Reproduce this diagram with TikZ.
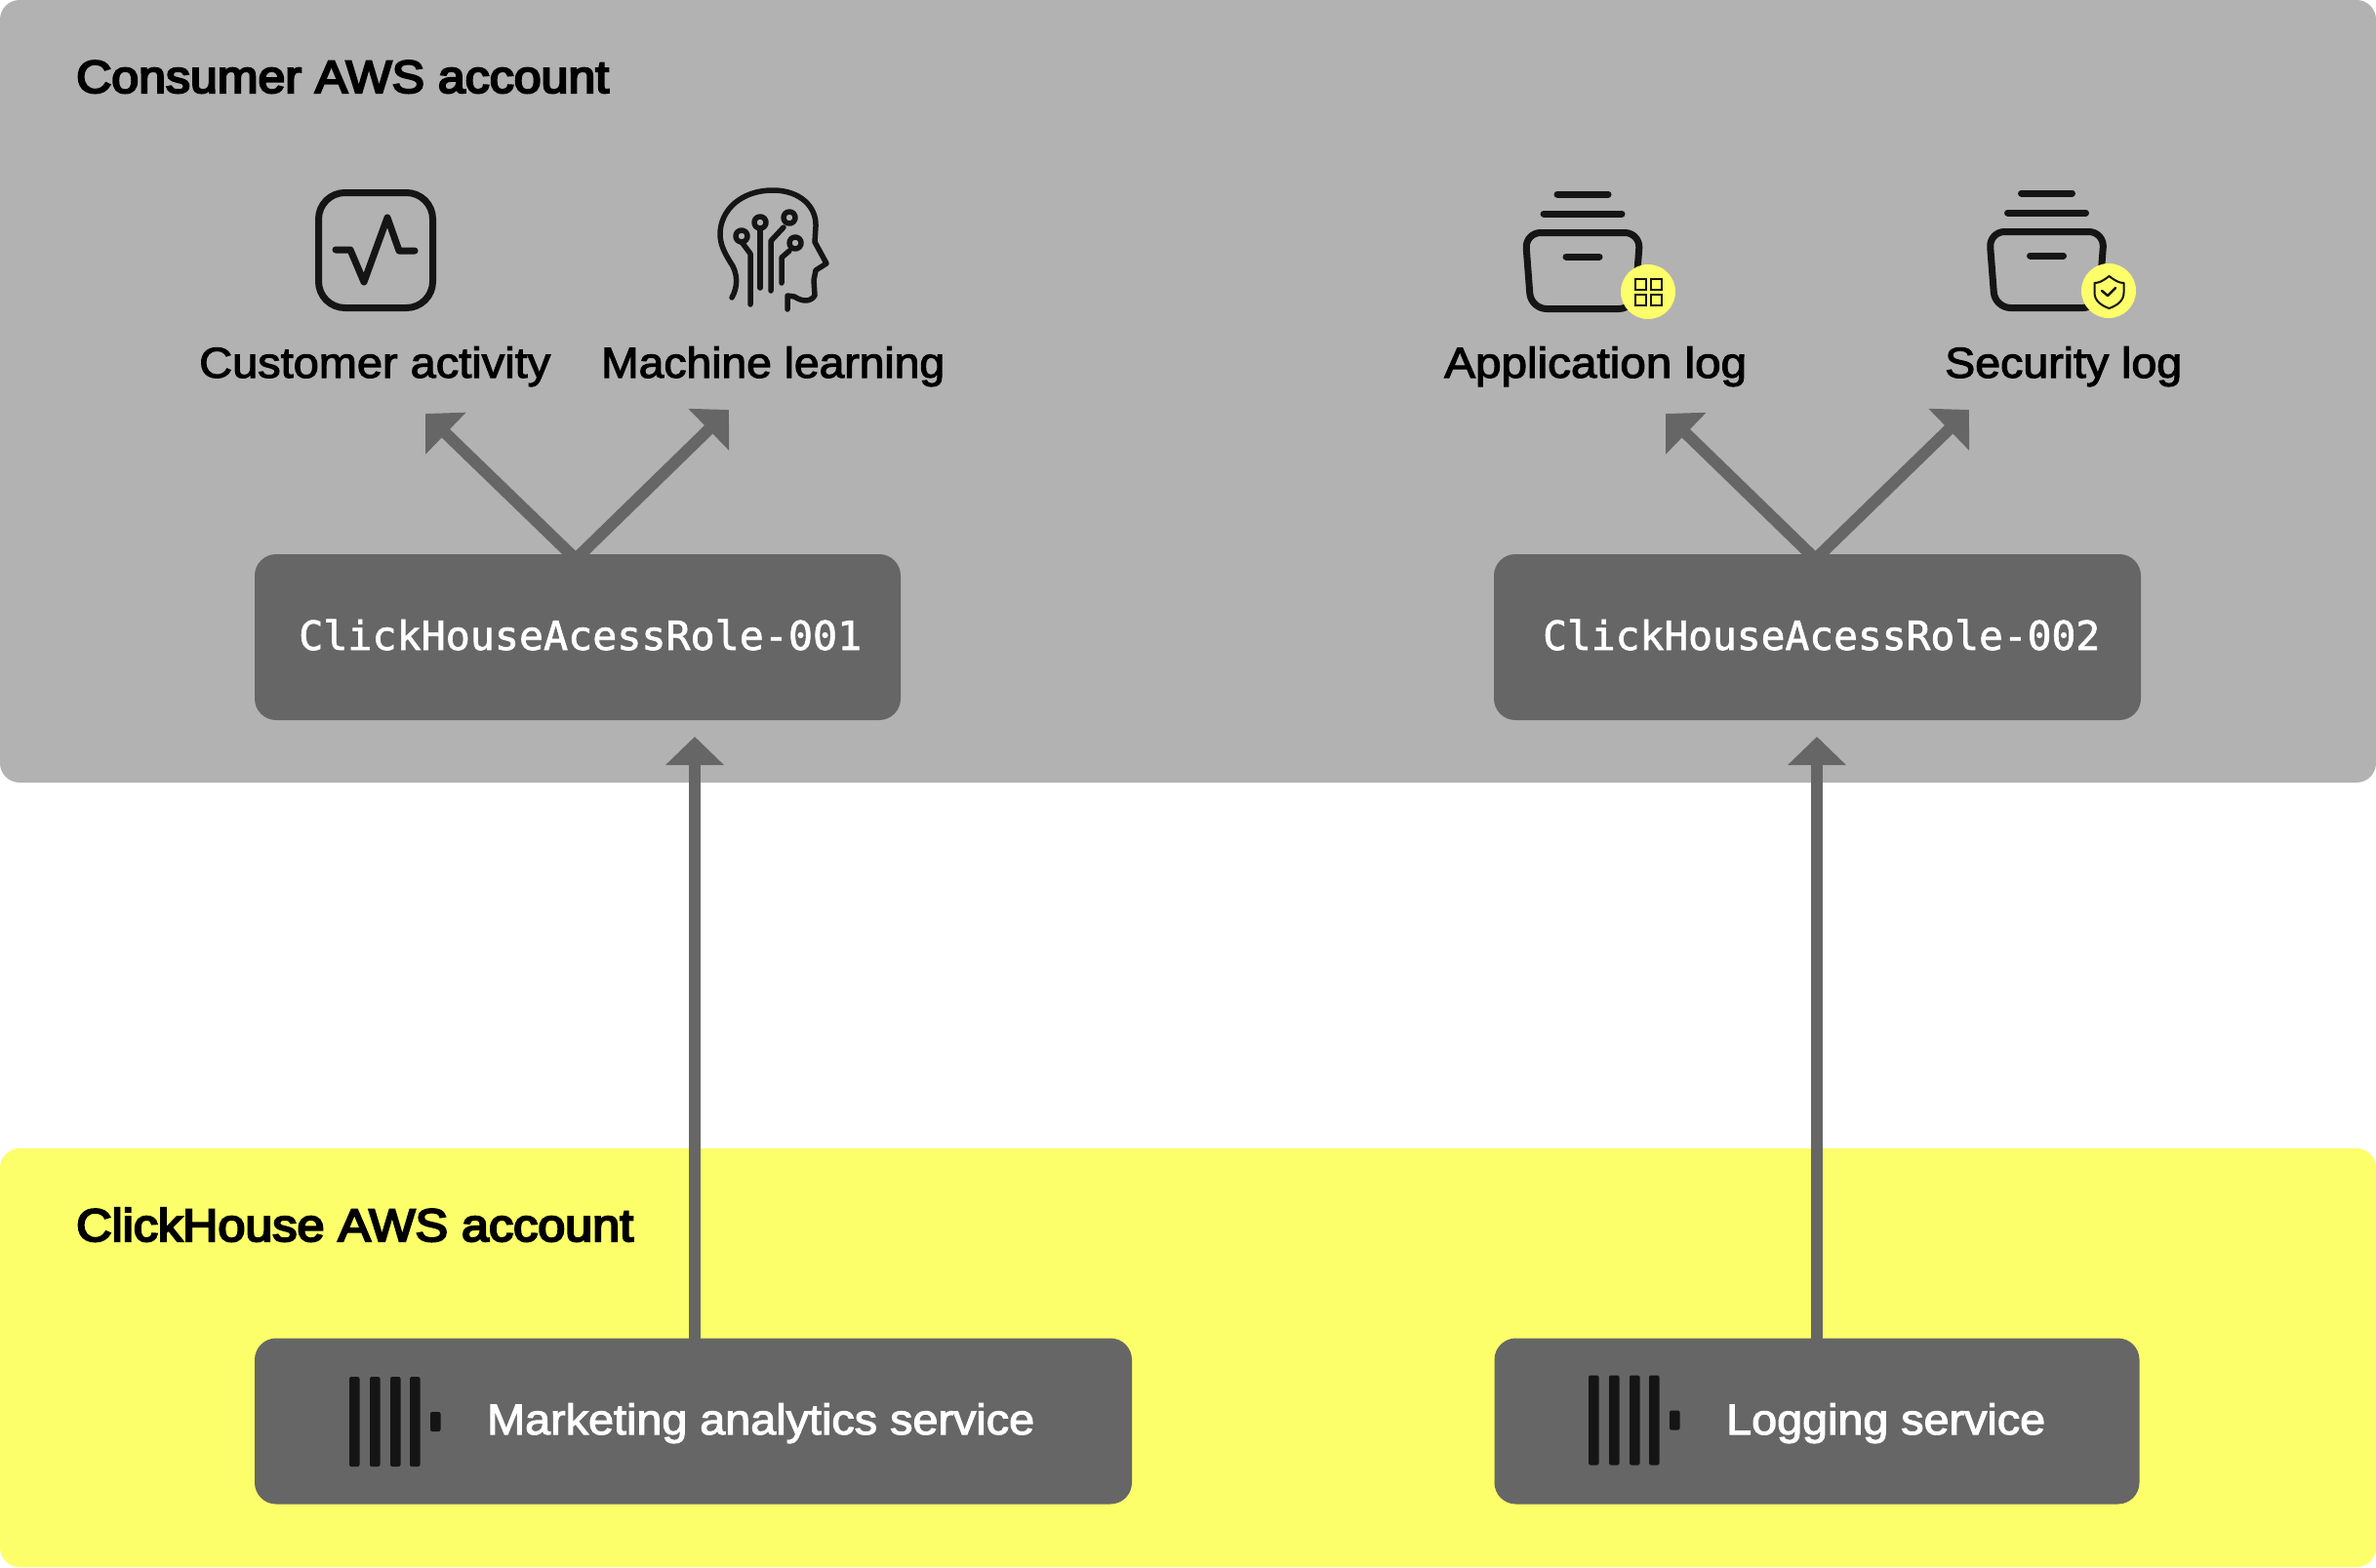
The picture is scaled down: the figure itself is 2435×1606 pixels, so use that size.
\documentclass[tikz,border=0pt]{standalone}
\usepackage{fontspec}
\usepackage{graphicx}
\usetikzlibrary{arrows.meta}
\setmainfont{Liberation Sans}
\newfontfamily\medf[FakeBold=2.4]{Liberation Sans}
\newfontfamily\headf[FakeBold=4.5]{Liberation Sans}
\newfontfamily\codef[FakeBold=1.6]{DejaVu Sans Mono}
\definecolor{panelgray}{HTML}{B2B2B2}
\definecolor{brandyellow}{HTML}{FCFF69}
\definecolor{boxgray}{HTML}{666666}
\definecolor{inkblack}{HTML}{151515}
\newcommand{\fitw}[2]{\resizebox{#1pt}{\height}{#2}}
\tikzset{
  x=1pt,y=-1pt,
  panel/.style={fill=#1,draw=none,rounded corners=20pt},
  darkbox/.style={fill=boxgray,draw=none,rounded corners=22pt,inner sep=0pt,anchor=center},
  flow/.style={draw=boxgray,line width=12pt,-{Triangle[length=29pt,width=58pt,fill=boxgray]}},
  heading/.style={anchor=base west,inner sep=0pt,text=black,font=\fontsize{47}{47}\headf},
  caption/.style={anchor=base west,inner sep=0pt,text=black,font=\fontsize{44}{44}\medf},
  svctext/.style={anchor=base west,inner sep=0pt,text=white,font=\fontsize{44}{44}\medf},
  roletext/.style={anchor=base west,inner sep=0pt,text=white,font=\fontsize{41}{41}\codef},
  icon/.style={draw=inkblack,line width=#1,line cap=round,line join=round},
  bar/.style={fill=inkblack,draw=none,rounded corners=2pt},
  badge/.style={fill=brandyellow,draw=none},
}
\begin{document}
\begin{tikzpicture}
\useasboundingbox (0,0) rectangle (2435,1606);
% panels
\path[panel=panelgray] (0,0) rectangle (2435,802);
\path[panel=brandyellow] (0,1177) rectangle (2435,1606);
\node[heading] (consumer) at (78,95) {\fitw{546}{Consumer AWS account}};
\node[heading] (clickhouse) at (78,1272) {\fitw{571}{ClickHouse AWS account}};
% captions
\node[caption] (activity) at (204,387) {\fitw{360}{Customer activity}};
\node[caption] (ml) at (616,387) {\fitw{352}{Machine learning}};
\node[caption] (applog) at (1480,387) {\fitw{310}{Application log}};
\node[caption] (seclog) at (1993,387) {\fitw{243}{Security log}};
% connector ends
\coordinate (roleAtop) at (590,573);
\coordinate (roleBtop) at (1860.5,573);
\coordinate (tipActivity) at (436,424);
\coordinate (tipMl) at (747,420);
\coordinate (tipApp) at (1707,424);
\coordinate (tipSec) at (2018,420);
\coordinate (tipRoleA) at (712,755);
\coordinate (tipRoleB) at (1862,755);
\coordinate (svcAtop) at (712,1380);
\coordinate (svcBtop) at (1862,1380);
% connectors
\draw[flow] (roleAtop) -- (tipActivity);
\draw[flow] (roleAtop) -- (tipMl);
\draw[flow] (roleBtop) -- (tipApp);
\draw[flow] (roleBtop) -- (tipSec);
\draw[flow] (svcAtop) -- (tipRoleA);
\draw[flow] (svcBtop) -- (tipRoleB);
% boxes
\node[darkbox,minimum width=662pt,minimum height=170pt] (roleA) at (592,653) {};
\node[darkbox,minimum width=663pt,minimum height=170pt] (roleB) at (1862.5,653) {};
\node[darkbox,minimum width=899pt,minimum height=170pt] (svcA) at (710.5,1456.5) {};
\node[darkbox,minimum width=661pt,minimum height=170pt] (svcB) at (1862,1456.5) {};
\node[roletext] (roleAtext) at (306,666) {\fitw{577}{ClickHouseAcessRole-001}};
\node[roletext] (roleBtext) at (1581,666) {\fitw{571}{ClickHouseAcessRole-002}};
\node[svctext] (svcAtext) at (499,1470) {\fitw{561}{Marketing analytics service}};
\node[svctext] (svcBtext) at (1769,1470) {\fitw{327}{Logging service}};
% ClickHouse logos
\foreach \dx/\dy in {0/0,1270/-1.5}{
  \begin{scope}[shift={(\dx,\dy)}]
    \foreach \bx in {358,379,400,420}{
      \path[bar] (\bx,1411) rectangle (\bx+10.5,1503);
    }
    \path[bar] (441,1447) rectangle (451.5,1467);
  \end{scope}
}
% activity icon
\draw[icon=7pt,rounded corners=27pt] (326.5,197.5) rectangle (443.5,315.5);
\draw[icon=7pt] (344,256) -- (359,256) -- (373,289) -- (397,223) -- (409,257) -- (425,257);
% head icon
\draw[icon=5.5pt] (750,305) .. controls (756,295) and (757,280) .. (748,268)
  .. controls (742,258) and (738,250) .. (738,240)
  .. controls (738,215) and (760,195) .. (792,195)
  .. controls (820,195) and (837,212) .. (836,232) -- (835,248)
  -- (847,270) -- (836,277) -- (834,287) -- (835,303)
  .. controls (830,310) and (822,309) .. (814,304) -- (807,303) -- (807,317);
\draw[icon=5.5pt] (760,248) -- (769,260) -- (769,312);
\draw[icon=5.5pt] (760,242) circle (6pt);
\draw[icon=5.5pt] (779,234) -- (779,295);
\draw[icon=5.5pt] (779,228) circle (6pt);
\draw[icon=5.5pt] (803,233) -- (790,247) -- (790,298);
\draw[icon=5.5pt] (809,223) circle (6pt);
\draw[icon=5.5pt] (809,257) -- (801,264) -- (801,290);
\draw[icon=5.5pt] (815,249) circle (6pt);
% log icons
\foreach \dx/\dy in {0/0,475.5/-1}{
  \begin{scope}[shift={(\dx,\dy)}]
    \draw[icon=7pt] (1596,199) -- (1648,199);
    \draw[icon=7pt] (1582,219) -- (1662,219);
    \draw[icon=7pt,rounded corners=16pt] (1563,238.5) -- (1681,238.5) -- (1675,316.5) -- (1569,316.5) -- cycle;
    \draw[icon=7pt] (1605,263) -- (1639,263);
  \end{scope}
}
\fill[badge] (1689,299) circle (28pt);
\fill[badge] (2161,298) circle (28pt);
\foreach \sx/\sy in {1676/286,1692/286,1676/302,1692/302}{
  \draw[inkblack,line width=2.5pt] (\sx,\sy) rectangle (\sx+11,\sy+11);
}
\draw[icon=2pt] (2161.5,283) .. controls (2155,288) and (2151,290) .. (2146.5,290)
  -- (2146.5,300) .. controls (2146.5,308) and (2153,313) .. (2161.5,316)
  .. controls (2170,313) and (2176.5,308) .. (2176.5,300) -- (2176.5,290)
  .. controls (2172,290) and (2168,288) .. (2161.5,283) -- cycle;
\draw[icon=2.5pt] (2154,298) -- (2160,303) -- (2168,295);
\end{tikzpicture}
\end{document}
